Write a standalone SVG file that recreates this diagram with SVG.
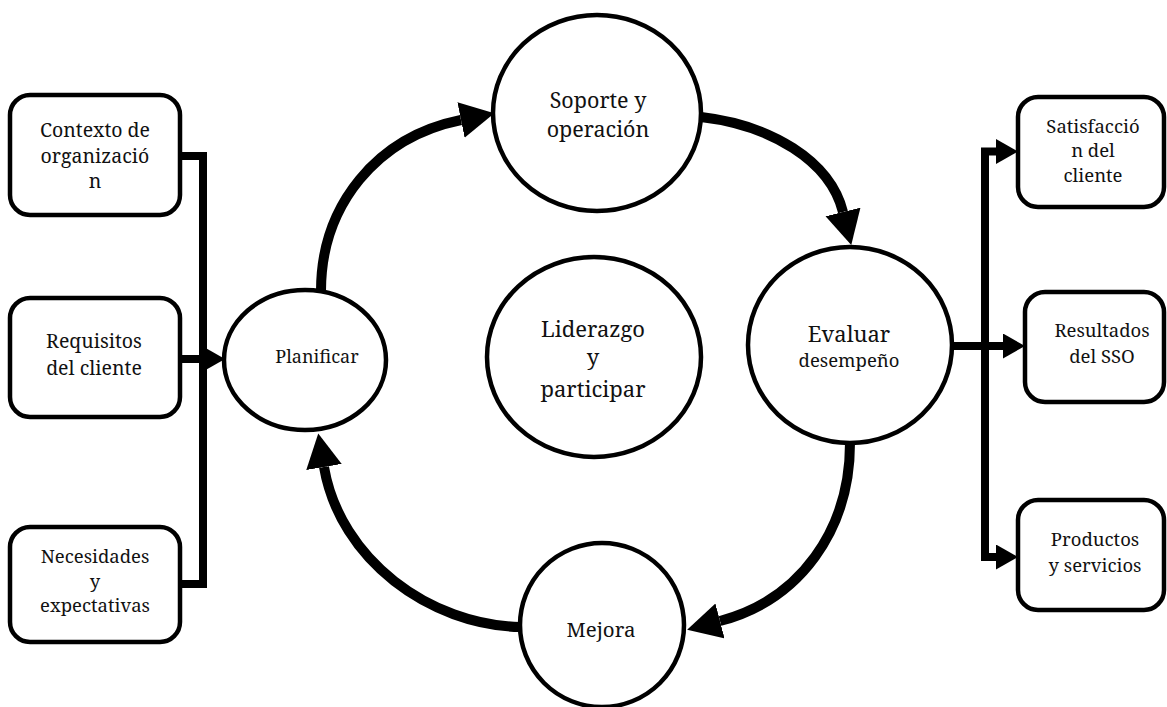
<svg xmlns="http://www.w3.org/2000/svg" width="1167" height="707" viewBox="0 0 1167 707">
  <style>
    .box { fill: #fff; stroke: #000; stroke-width: 4.5; }
    .node { fill: #fff; stroke: #000; stroke-width: 4.5; }
    text { font-family: 'Noto Serif', 'DejaVu Serif', serif; fill: #111; text-anchor: middle; }
    .cycle { fill: none; stroke: #000; stroke-width: 10; }
    .link { fill: none; stroke: #000; stroke-width: 8; stroke-linejoin: miter; }
  </style>
  <defs>
    <marker id="bigHead" markerUnits="userSpaceOnUse" markerWidth="36" markerHeight="38" refX="0" refY="18" orient="auto">
      <path d="M0,0 L34,18 L0,36 z" fill="#000"/>
    </marker>
    <marker id="smallHead" markerUnits="userSpaceOnUse" markerWidth="24" markerHeight="28" refX="0" refY="12.5" orient="auto">
      <path d="M0,0 L22,12.5 L0,25 z" fill="#000"/>
    </marker>
  </defs>

  <rect width="1167" height="707" fill="#fff"/>

  <!-- connectors -->
  <g id="connectors">
    <!-- inputs merging into Planificar -->
    <path class="link" d="M180,156 H203 V584 H180"/>
    <path class="link" d="M180,359 H203" marker-end="url(#smallHead)"/>
    <!-- outputs of Evaluar desempeño -->
    <path class="link" d="M952,346 H1003" marker-end="url(#smallHead)"/>
    <path class="link" d="M985,346 V151.5 H996" marker-end="url(#smallHead)"/>
    <path class="link" d="M985,346 V557 H996" marker-end="url(#smallHead)"/>
    <!-- improvement cycle -->
    <path class="cycle" d="M321,291 C321,205 377,137 461,120" marker-end="url(#bigHead)"/>
    <path class="cycle" d="M701,117 C770,125 830,160 843,212" marker-end="url(#bigHead)"/>
    <path class="cycle" d="M850,443 C850,530 800,600 720,621" marker-end="url(#bigHead)"/>
    <path class="cycle" d="M520,627 C430,625 340,560 324,467" marker-end="url(#bigHead)"/>
  </g>

  <!-- input boxes -->
  <g id="contexto">
    <rect class="box" x="10" y="95" width="170" height="120" rx="20"/>
    <text font-size="19.5" x="95" y="137">Contexto de</text>
    <text font-size="19.5" x="95" y="163">organizació</text>
    <text font-size="19.5" x="95" y="188">n</text>
  </g>
  <g id="requisitos">
    <rect class="box" x="10" y="298" width="170" height="119" rx="20"/>
    <text font-size="19.5" x="94" y="348">Requisitos</text>
    <text font-size="19.5" x="94" y="375">del cliente</text>
  </g>
  <g id="necesidades">
    <rect class="box" x="10" y="527" width="170" height="115" rx="20"/>
    <text font-size="18.5" x="95" y="563">Necesidades</text>
    <text font-size="18.5" x="95" y="588">y</text>
    <text font-size="18.5" x="95" y="612">expectativas</text>
  </g>

  <!-- cycle stages -->
  <g id="planificar">
    <ellipse class="node" cx="305" cy="360" rx="81" ry="70"/>
    <text font-size="18" x="317" y="363">Planificar</text>
  </g>
  <g id="soporte">
    <ellipse class="node" cx="597" cy="113" rx="104" ry="98"/>
    <text font-size="21.5" x="598" y="108">Soporte y</text>
    <text font-size="21.5" x="598" y="137">operación</text>
  </g>
  <g id="liderazgo">
    <ellipse class="node" cx="594" cy="357" rx="107" ry="100"/>
    <text font-size="22" x="593" y="337">Liderazgo</text>
    <text font-size="22" x="593" y="365">y</text>
    <text font-size="22" x="593" y="397">participar</text>
  </g>
  <g id="evaluar">
    <ellipse class="node" cx="850" cy="345" rx="102" ry="98"/>
    <text font-size="22" x="849" y="342">Evaluar</text>
    <text font-size="18.5" x="849" y="367">desempeño</text>
  </g>
  <g id="mejora">
    <ellipse class="node" cx="602" cy="625" rx="82" ry="82"/>
    <text font-size="20.5" x="601" y="637">Mejora</text>
  </g>

  <!-- output boxes -->
  <g id="satisfaccion">
    <rect class="box" x="1018" y="97" width="146" height="110" rx="20"/>
    <text font-size="18.5" x="1093" y="133">Satisfacció</text>
    <text font-size="18.5" x="1093" y="157">n del</text>
    <text font-size="18.5" x="1093" y="182">cliente</text>
  </g>
  <g id="resultados">
    <rect class="box" x="1025" y="292" width="139" height="110" rx="20"/>
    <text font-size="18.5" x="1102" y="337">Resultados</text>
    <text font-size="18.5" x="1102" y="363">del SSO</text>
  </g>
  <g id="productos">
    <rect class="box" x="1018" y="500" width="146" height="110" rx="20"/>
    <text font-size="18.5" x="1095" y="546">Productos</text>
    <text font-size="18.5" x="1095" y="572">y servicios</text>
  </g>
</svg>
